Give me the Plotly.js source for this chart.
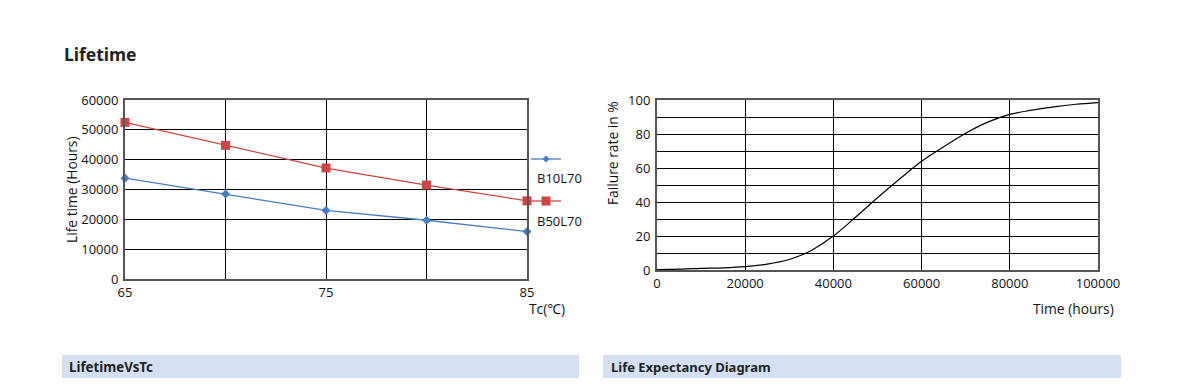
<!DOCTYPE html>
<html>
<head>
<meta charset="utf-8">
<script src="https://cdn.plot.ly/plotly-3.0.1.min.js"></script>
<style>
html,body{margin:0;padding:0;background:#fff;}
#chart{width:1186px;height:385px;}
</style>
</head>
<body>
<div id="chart"></div>
<script>
// Left chart: Lifetime vs Tc
const tc = [65, 70, 75, 80, 85];
const b10l70 = [33800, 28500, 23000, 19700, 15900];
const b50l70 = [52500, 44800, 37200, 31500, 26200];
const seriesNames = ['B10L70', 'B50L70'];

// Right chart: Life expectancy
const timeHours = [0, 5000, 10000, 15000, 20000, 25000, 30000, 32500, 35000, 40000, 45000, 50000,
  55000, 60000, 65000, 70000, 75000, 80000, 85000, 90000, 95000, 100000];
const failureRate = [0.3, 0.5, 1, 1.3, 2, 3.5, 6.2, 8.5, 11.5, 20, 31, 42.5,
  53.5, 64, 72.5, 80.5, 87, 91.5, 94, 96, 97.5, 98.5];

const leftXTicks = [65, 75, 85];
const rightXTicks = [0, 20000, 40000, 60000, 80000, 100000];
const rightYTicks = [0, 20, 40, 60, 80, 100];

const W = 1186, H = 385;
const px = x => x / W;
const py = y => 1 - y / H;

const RED = '#d04646';
const BLUE = '#4a7dbf';
const TXT = '#111';
const FONT = 'Open Sans, Noto Sans, sans-serif';

const traces = [
  {x: tc, y: b10l70, name: seriesNames[0], type: 'scatter', mode: 'lines+markers',
   line: {color: BLUE, width: 1.3}, marker: {symbol: 'diamond', size: 7, color: BLUE},
   xaxis: 'x', yaxis: 'y', showlegend: false, cliponaxis: false},
  {x: tc, y: b50l70, name: seriesNames[1], type: 'scatter', mode: 'lines+markers',
   line: {color: RED, width: 1.3}, marker: {symbol: 'square', size: 9, color: RED},
   xaxis: 'x', yaxis: 'y', showlegend: false, cliponaxis: false},
  {x: timeHours, y: failureRate, type: 'scatter', mode: 'lines', line: {color: '#000', width: 1.2, shape: 'spline', smoothing: 1},
   xaxis: 'x2', yaxis: 'y2', showlegend: false}
];

const axFont = {family: FONT, size: 13, color: TXT};
const titleFont = {family: FONT, size: 13.8, color: TXT};

const layout = {
  width: W, height: H,
  margin: {l: 0, r: 0, t: 0, b: 0},
  paper_bgcolor: '#fff', plot_bgcolor: '#fff',
  font: {family: FONT, color: TXT},
  xaxis: {
    domain: [px(125), px(527)], anchor: 'y', range: [65, 85],
    tickvals: leftXTicks, ticktext: leftXTicks.map(String),
    showgrid: true, gridcolor: '#000', gridwidth: 1,
    minor: {tickvals: [70, 80], showgrid: true, gridcolor: '#000', gridwidth: 1},
    showline: true, linecolor: '#555', linewidth: 2, mirror: true,
    ticks: '', tickfont: axFont, zeroline: false, fixedrange: true
  },
  yaxis: {
    domain: [py(279), py(100)], anchor: 'x', range: [0, 60000], dtick: 10000, tickformat: 'd',
    showgrid: true, gridcolor: '#000', gridwidth: 1,
    showline: true, linecolor: '#555', linewidth: 2, mirror: true,
    ticks: '', tickfont: axFont, zeroline: false, fixedrange: true, ticklabelstandoff: 2
  },
  xaxis2: {
    domain: [px(657), px(1098)], anchor: 'y2', range: [0, 100000],
    tickvals: rightXTicks, ticktext: rightXTicks.map(String),
    showgrid: true, gridcolor: '#000', gridwidth: 1,
    showline: true, linecolor: '#555', linewidth: 2, mirror: true,
    ticks: '', tickfont: axFont, zeroline: false, fixedrange: true
  },
  yaxis2: {
    domain: [py(270), py(100)], anchor: 'x2', range: [0, 100],
    tickvals: rightYTicks, ticktext: rightYTicks.map(String),
    showgrid: true, gridcolor: '#000', gridwidth: 1,
    minor: {dtick: 10, showgrid: true, gridcolor: '#000', gridwidth: 1},
    showline: true, linecolor: '#555', linewidth: 2, mirror: true,
    ticks: '', tickfont: axFont, zeroline: false, fixedrange: true, ticklabelstandoff: 2
  },
  shapes: [
    // bottom caption bars
    {type: 'rect', xref: 'paper', yref: 'paper', x0: px(62), x1: px(579), y0: py(378), y1: py(355),
     fillcolor: '#d4e0f1', line: {width: 0}, layer: 'below'},
    {type: 'rect', xref: 'paper', yref: 'paper', x0: px(603), x1: px(1121), y0: py(378), y1: py(355),
     fillcolor: '#d4e0f1', line: {width: 0}, layer: 'below'},
    // legend samples
    {type: 'line', xref: 'paper', yref: 'paper', x0: px(531), x1: px(561), y0: py(159), y1: py(159),
     line: {color: BLUE, width: 1.3}},
    {type: 'path', xref: 'paper', yref: 'paper',
     path: `M ${px(546)} ${py(155.5)} L ${px(549.5)} ${py(159)} L ${px(546)} ${py(162.5)} L ${px(542.5)} ${py(159)} Z`,
     fillcolor: BLUE, line: {width: 0}},
    {type: 'line', xref: 'paper', yref: 'paper', x0: px(531), x1: px(561), y0: py(201), y1: py(201),
     line: {color: RED, width: 1.3}},
    {type: 'rect', xref: 'paper', yref: 'paper', x0: px(541.5), x1: px(550.5), y0: py(205.5), y1: py(196.5),
     fillcolor: RED, line: {width: 0}}
  ],
  annotations: [
    {text: '<b>Lifetime</b>', xref: 'paper', yref: 'paper', x: px(62), y: py(54), xanchor: 'left', yanchor: 'middle',
     showarrow: false, font: {family: 'Noto Sans, Open Sans, sans-serif', size: 17.5, color: '#222'}},
    {text: seriesNames[0], xref: 'paper', yref: 'paper', x: px(535), y: py(178), xanchor: 'left', yanchor: 'middle',
     showarrow: false, font: axFont},
    {text: seriesNames[1], xref: 'paper', yref: 'paper', x: px(535), y: py(221), xanchor: 'left', yanchor: 'middle',
     showarrow: false, font: axFont},
    {text: 'Life time (Hours)', xref: 'paper', yref: 'paper', x: px(72), y: py(190), xanchor: 'center', yanchor: 'middle',
     textangle: -90, showarrow: false, font: titleFont},
    {text: 'Tc(℃)', xref: 'paper', yref: 'paper', x: px(567), y: py(308), xanchor: 'right', yanchor: 'middle',
     showarrow: false, font: titleFont},
    {text: 'Failure rate in %', xref: 'paper', yref: 'paper', x: px(612), y: py(153), xanchor: 'center', yanchor: 'middle',
     textangle: -90, showarrow: false, font: titleFont},
    {text: 'Time (hours)', xref: 'paper', yref: 'paper', x: px(1116), y: py(308), xanchor: 'right', yanchor: 'middle',
     showarrow: false, font: titleFont},
    {text: '<b>LifetimeVsTc</b>', xref: 'paper', yref: 'paper', x: px(67), y: py(367), xanchor: 'left', yanchor: 'middle',
     showarrow: false, font: {family: 'Noto Sans, Open Sans, sans-serif', size: 13.3, color: '#222'}},
    {text: '<b>Life Expectancy Diagram</b>', xref: 'paper', yref: 'paper', x: px(609), y: py(367), xanchor: 'left', yanchor: 'middle',
     showarrow: false, font: {family: 'Noto Sans, Open Sans, sans-serif', size: 13, color: '#222'}}
  ]
};

Plotly.newPlot('chart', traces, layout, {displayModeBar: false, staticPlot: true});
</script>
</body>
</html>
